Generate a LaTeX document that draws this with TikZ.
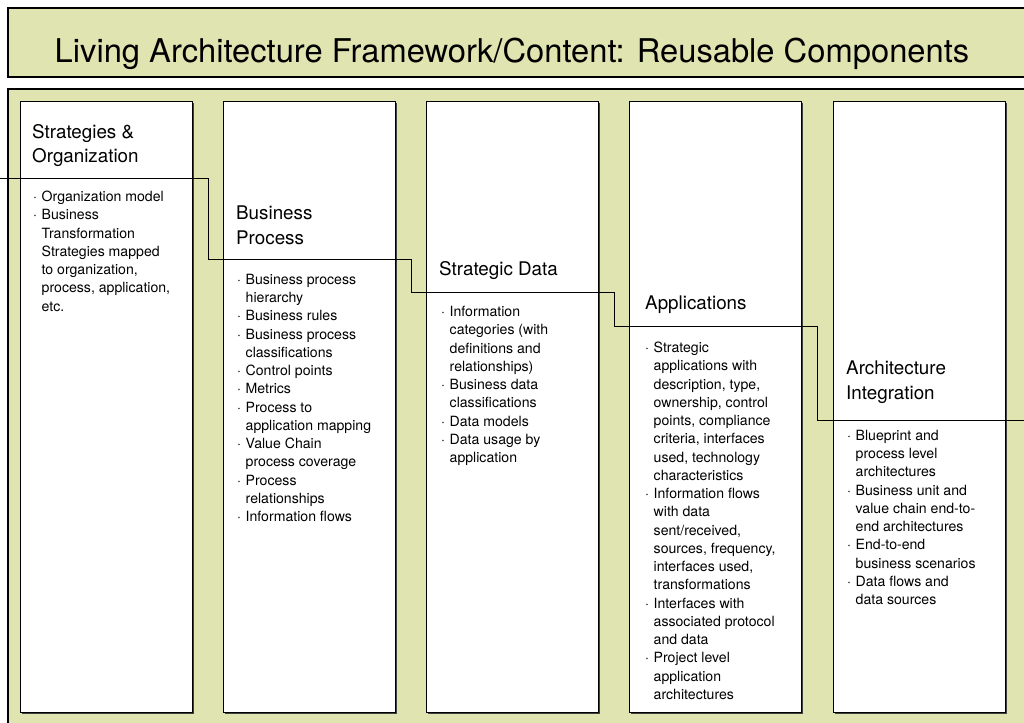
\documentclass[tikz,border=0pt]{standalone}
\usepackage{fontspec}
\setmainfont{TeX Gyre Heros}
\usetikzlibrary{shadows}
\definecolor{bg}{RGB}{224,228,176}
\newcommand\bu{\makebox[8.5pt][l]{·}}
\newcommand\ct{\hspace*{8.5pt}}
\begin{document}
\begin{tikzpicture}[x=1pt,y=-1pt,
  panel/.style={draw=black, line width=1.4pt, fill=bg},
  colbox/.style={draw=black, line width=1.4pt, fill=white, anchor=north west,
    minimum width=172pt, minimum height=611pt, inner sep=0pt,
    drop shadow={shadow xshift=1.3pt, shadow yshift=-1.3pt, fill=black!75, opacity=1}},
  hdr/.style={anchor=north west, inner sep=0pt, align=left, font=\fontsize{18.8}{24.5}\selectfont},
  body/.style={anchor=north west, inner sep=0pt, align=left, font=\fontsize{14.1}{18.25}\selectfont},
  stepline/.style={draw=black, line width=0.8pt}]
\useasboundingbox (0,0) rectangle (1024,722);
\fill[white] (0,0) rectangle (1024,722);
\draw[panel] (8,8) rectangle (1040,77);
\node[anchor=base, font=\fontsize{32.7}{36}\selectfont, inner sep=0pt] (title) at (512,63) {Living Architecture Framework/Content: Reusable Components};
\draw[panel] (8,89) rectangle (1040,740);
\node[colbox] (c1) at (20,101) {};
\node[colbox] (c2) at (223,101) {};
\node[colbox] (c3) at (426,101) {};
\node[colbox] (c4) at (629,101) {};
\node[colbox] (c5) at (833,101) {};
\coordinate (s0) at (0,178);
\coordinate (s1) at (208,178);
\coordinate (s2) at (208,259);
\coordinate (s3) at (411,259);
\coordinate (s4) at (411,292);
\coordinate (s5) at (614,292);
\coordinate (s6) at (614,326);
\coordinate (s7) at (817,326);
\coordinate (s8) at (817,420);
\coordinate (s9) at (1024,420);
\draw[stepline] (s0) -- (s1) -- (s2) -- (s3) -- (s4) -- (s5) -- (s6) -- (s7) -- (s8) -- (s9);
% column 1
\node[hdr] (h1) at (32,124) {Strategies \&\\Organization};
\node[body] (b1) at (33,191) {\bu Organization model\\\bu Business\\\ct Transformation\\\ct Strategies mapped\\\ct to organization,\\\ct process, application,\\\ct etc.};
% column 2
\node[hdr] (h2) at (236,206) {Business\\Process};
\node[body] (b2) at (237,274) {\bu Business process\\\ct hierarchy\\\bu Business rules\\\bu Business process\\\ct classifications\\\bu Control points\\\bu Metrics\\\bu Process to\\\ct application mapping\\\bu Value Chain\\\ct process coverage\\\bu Process\\\ct relationships\\\bu Information flows};
% column 3
\node[hdr] (h3) at (439,261) {Strategic Data};
\node[body] (b3) at (441,306) {\bu Information\\\ct categories (with\\\ct definitions and\\\ct relationships)\\\bu Business data\\\ct classifications\\\bu Data models\\\bu Data usage by\\\ct application};
% column 4
\node[hdr] (h4) at (645,296) {Applications};
\node[body] (b4) at (645,342) {\bu Strategic\\\ct applications with\\\ct description, type,\\\ct ownership, control\\\ct points, compliance\\\ct criteria, interfaces\\\ct used, technology\\\ct characteristics\\\bu Information flows\\\ct with data\\\ct sent/received,\\\ct sources, frequency,\\\ct interfaces used,\\\ct transformations\\\bu Interfaces with\\\ct associated protocol\\\ct and data\\\bu Project level\\\ct application\\\ct architectures};
% column 5
\node[hdr] (h5) at (846,361) {Architecture\\Integration};
\node[body] (b5) at (847,430) {\bu Blueprint and\\\ct process level\\\ct architectures\\\bu Business unit and\\\ct value chain end-to-\\\ct end architectures\\\bu End-to-end\\\ct business scenarios\\\bu Data flows and\\\ct data sources};
\end{tikzpicture}
\end{document}
